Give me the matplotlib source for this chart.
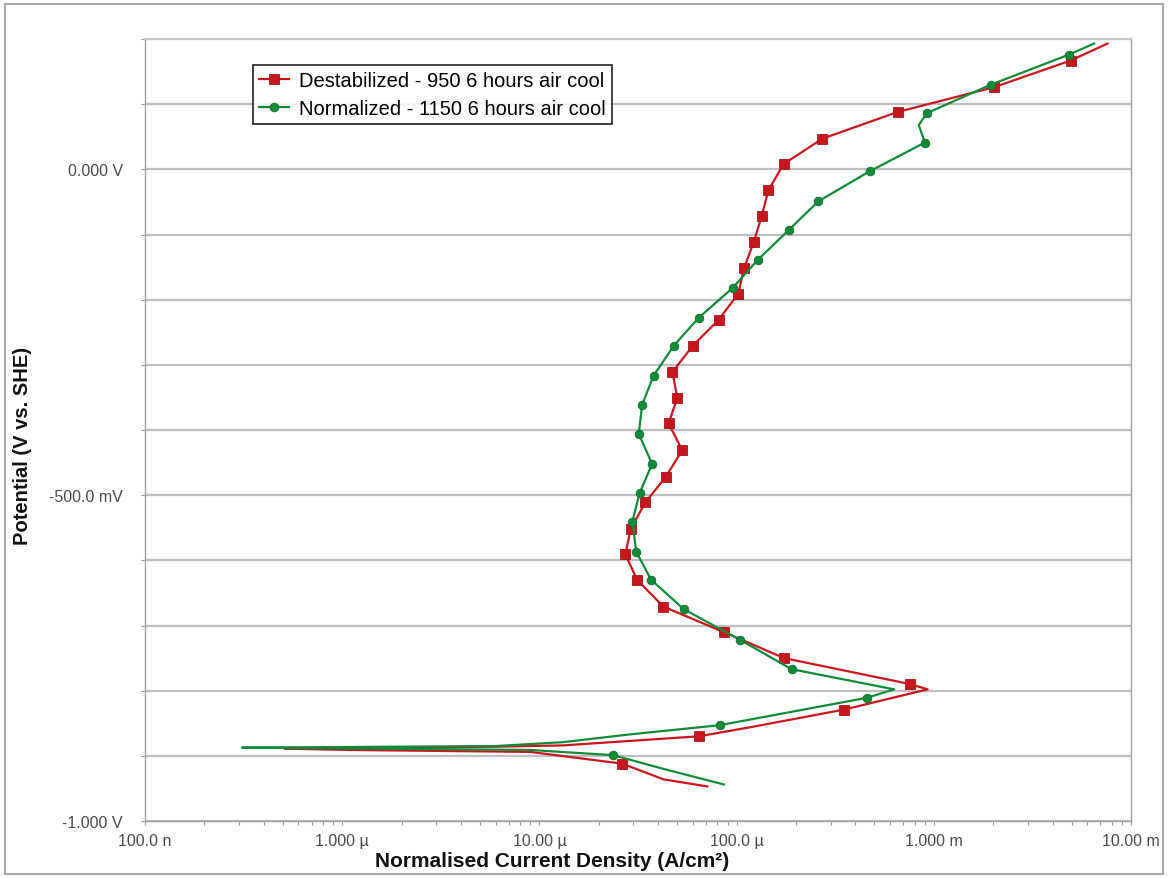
import matplotlib
matplotlib.use("Agg")
import matplotlib.pyplot as plt
from matplotlib.patches import Rectangle
from matplotlib.ticker import FixedLocator, LogLocator, NullFormatter, FixedFormatter

plt.rcParams['font.family'] = ['Liberation Sans', 'DejaVu Sans']

# Potentiodynamic scan, destabilized sample (950, 6 h, air cool)
red_potential = [-0.947, -0.936, -0.912, -0.894, -0.891, -0.889, -0.8875, -0.886, -0.884,
                 -0.870, -0.856, -0.829, -0.798, -0.790, -0.750, -0.710, -0.671, -0.630,
                 -0.591, -0.552, -0.511, -0.472, -0.431, -0.390, -0.351, -0.311, -0.271,
                 -0.231, -0.191, -0.152, -0.112, -0.072, -0.032, 0.008, 0.047, 0.088,
                 0.126, 0.167, 0.193]
red_current = [7.1e-5, 4.25e-5, 2.63e-5, 9.0e-6, 1.1e-6, 5.1e-7, 1.5e-6, 6.0e-6, 1.32e-5,
               6.44e-5, 1.18e-4, 3.51e-4, 9.3e-4, 7.6e-4, 1.74e-4, 8.6e-5, 4.25e-5, 3.13e-5,
               2.73e-5, 2.9e-5, 3.45e-5, 4.37e-5, 5.3e-5, 4.52e-5, 5.0e-5, 4.73e-5, 5.98e-5,
               8.1e-5, 1.02e-4, 1.09e-4, 1.22e-4, 1.34e-4, 1.45e-4, 1.73e-4, 2.72e-4, 6.55e-4,
               2.02e-3, 4.95e-3, 7.6e-3]
red_marked = [2, 9, 11] + list(range(13, 38))

# Potentiodynamic scan, normalized sample (1150, 6 h, air cool)
green_potential = [-0.944, -0.920, -0.899, -0.891, -0.889, -0.8875, -0.8865, -0.885, -0.879,
                   -0.867, -0.853, -0.811, -0.798, -0.767, -0.722, -0.675, -0.630, -0.587,
                   -0.541, -0.497, -0.452, -0.406, -0.361, -0.317, -0.271, -0.228, -0.182,
                   -0.139, -0.093, -0.049, -0.003, 0.041, 0.068, 0.086, 0.130, 0.176, 0.193]
green_current = [8.63e-5, 4.25e-5, 2.37e-5, 9.0e-6, 1.6e-6, 3.1e-7, 1.0e-6, 6.0e-6, 1.32e-5,
                 2.9e-5, 8.2e-5, 4.57e-4, 6.3e-4, 1.9e-4, 1.04e-4, 5.4e-5, 3.69e-5, 3.1e-5,
                 2.96e-5, 3.22e-5, 3.73e-5, 3.19e-5, 3.32e-5, 3.79e-5, 4.79e-5, 6.41e-5, 9.55e-5,
                 1.28e-4, 1.84e-4, 2.6e-4, 4.73e-4, 9.0e-4, 8.4e-4, 9.2e-4, 1.95e-3, 4.84e-3, 6.5e-3]
green_marked = [2, 10, 11] + list(range(13, 32)) + [33, 34, 35]

series_labels = ["Destabilized - 950 6 hours air cool", "Normalized - 1150 6 hours air cool"]

x_ticks = [1e-7, 1e-6, 1e-5, 1e-4, 1e-3, 1e-2]
x_tick_labels = ["100.0 n", "1.000 \u00b5", "10.00 \u00b5", "100.0 \u00b5", "1.000 m", "10.00 m"]
y_grid = [-1.0, -0.9, -0.8, -0.7, -0.6, -0.5, -0.4, -0.3, -0.2, -0.1, 0.0, 0.1, 0.2]
y_tick_labels = {-1.0: "-1.000 V", -0.5: "-500.0 mV", 0.0: "0.000 V"}

W, H = 1168, 879
fig = plt.figure(figsize=(W / 100, H / 100), dpi=100)
ax = fig.add_axes([145 / W, 1 - 822 / H, (1131 - 145) / W, (822 - 40) / H])

red_c = '#c8161f'
green_c = '#128a3a'

ax.plot(red_current, red_potential, color=red_c, lw=1.6, marker='s', ms=6.8,
        markevery=red_marked, mfc=red_c, mec='#a5121a', mew=0.6,
        label=series_labels[0], zorder=3)
ax.plot(green_current, green_potential, color=green_c, lw=1.6, marker='o', ms=6.2,
        markevery=green_marked, mfc=green_c, mec='#0d6e2d', mew=0.6,
        label=series_labels[1], zorder=4)

ax.set_xscale('log')
ax.set_xlim(1e-7, 1e-2)
ax.set_ylim(-1.0, 0.2)

ax.xaxis.set_major_locator(FixedLocator(x_ticks))
ax.xaxis.set_major_formatter(FixedFormatter(x_tick_labels))
ax.xaxis.set_minor_locator(LogLocator(base=10, subs=range(2, 10)))
ax.xaxis.set_minor_formatter(NullFormatter())

ax.yaxis.set_major_locator(FixedLocator(y_grid))
ax.yaxis.set_major_formatter(FixedFormatter([y_tick_labels.get(round(v, 1), "") for v in y_grid]))

ax.grid(axis='y', which='major', color='#bfbfbf', lw=1.6)
ax.set_axisbelow(True)

ax.tick_params(axis='both', which='both', direction='out', colors='#9a9a9a',
               labelcolor='#4a4a4a', labelsize=11.5, length=3, width=0.8)
ax.tick_params(axis='y', pad=13)
ax.tick_params(axis='x', pad=6)

for side in ['left', 'bottom', 'right', 'top']:
    ax.spines[side].set_color('#a0a0a0')
    ax.spines[side].set_linewidth(1.0)
ax.spines['top'].set_color('#c8c8c8')
ax.spines['top'].set_linewidth(1.6)

ax.set_xlabel("Normalised Current Density (A/cm\u00b2)", fontsize=15, fontweight='bold',
              color='#111111', va='center')
ax.xaxis.set_label_coords(0.413, -0.051)
ax.set_ylabel("Potential (V vs. SHE)", fontsize=14.5, fontweight='bold',
              color='#111111', va='center')
ax.yaxis.set_label_coords(-0.1247, 0.481)

leg = ax.legend(loc='upper left', bbox_to_anchor=(0.1095, 0.967), borderaxespad=0,
                fancybox=False, frameon=True, edgecolor='black', fontsize=14.5,
                handlelength=1.5, handletextpad=0.5, borderpad=0.3, labelspacing=0.45)
leg.get_frame().set_linewidth(1.3)

fig.patches.append(Rectangle((5 / W, 4 / H), (W - 10) / W, (H - 9) / H,
                             transform=fig.transFigure, fill=False,
                             edgecolor='#a8a8a8', lw=1.5))

fig.savefig('out.png', dpi=100)
